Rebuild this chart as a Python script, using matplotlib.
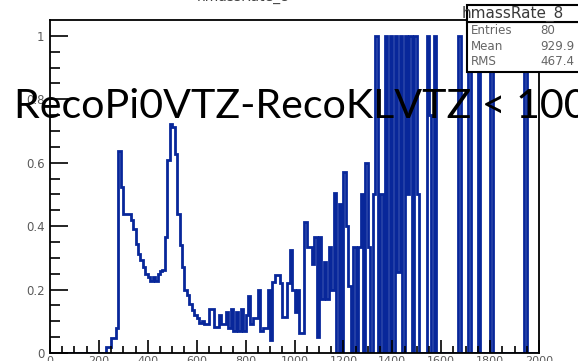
import numpy as np
import matplotlib
matplotlib.use("Agg")
import matplotlib.pyplot as plt
from matplotlib.patches import Rectangle

# histogram contents (ratio per bin), 200 bins over 0..2000
x_min, x_max = 0, 2000
ratio = [
    0, 0, 0, 0, 0, 0, 0, 0, 0, 0,
    0, 0, 0, 0, 0, 0, 0, 0, 0, 0,
    0, 0, 0, 0.02, 0.02, 0.046, 0.046, 0.078, 0.638, 0.523,
    0.437, 0.437, 0.437, 0.42, 0.392, 0.345, 0.313, 0.292, 0.271, 0.25,
    0.24, 0.228, 0.24, 0.228, 0.25, 0.26, 0.262, 0.366, 0.607, 0.722,
    0.712, 0.628, 0.439, 0.34, 0.271, 0.198, 0.182, 0.156, 0.135, 0.12,
    0.11, 0.094, 0.1, 0.093, 0.093, 0.14, 0.14, 0.083, 0.083, 0.12,
    0.09, 0.09, 0.13, 0.08, 0.14, 0.07, 0.13, 0.07, 0.14, 0.07,
    0.12, 0.18, 0.09, 0.11, 0.11, 0.2, 0.07, 0.08, 0.08, 0.2,
    0.04, 0.224, 0.245, 0.245, 0.22, 0.114, 0.114, 0.22, 0.324, 0.2,
    0.13, 0.2, 0.063, 0.063, 0.413, 0.334, 0.334, 0.28, 0.366, 0.05,
    0.366, 0.17, 0.287, 0.17, 0.334, 0.2, 0.503, 0, 0.47, 0,
    0.57, 0.40, 0.21, 0, 0.334, 0, 0.334, 0.5, 0, 0.6,
    0.334, 0, 0.5, 1.0, 0, 0.5, 0, 1.0, 0, 1.0,
    0, 1.0, 0.256, 1.0, 0, 1.0, 0.5, 1.0, 0, 1.0,
    0.5, 0, 0, 0, 1.0, 0.75, 0, 1.0, 0, 0,
    0, 0, 0, 0, 0, 0, 0, 1.0, 0, 0,
    0, 1.0, 0, 0, 0, 1.0, 0, 0, 0, 0,
    1.0, 0, 0, 0, 0, 0, 0, 0, 0, 0,
    0, 0, 0, 0, 1.0, 0, 0, 0, 0, 0,
]
edges = np.linspace(x_min, x_max, len(ratio) + 1)

hist_title = "hmassRate_8"
stat_names = ["Entries", "Mean", "RMS"]
stat_values = ["80", "929.9", "467.4"]
x_ticks = [0, 200, 400, 600, 800, 1000, 1200, 1400, 1600, 1800, 2000]
y_ticks = [0, 0.2, 0.4, 0.6, 0.8, 1]
y_labels = ["0", "0.2", "0.4", "0.6", "0.8", "1"]
overlay = "RecoPi0VTZ-RecoKLVTZ < 100"

W, H = 578, 361
fig = plt.figure(figsize=(W / 100, H / 100), dpi=100)


def fx(px):
    return px / W


def fy(py):
    return 1 - py / H


ax = fig.add_axes([fx(50), fy(353), fx(539) - fx(50), fy(20) - fy(353)])
ax.stairs(ratio, edges, color="#08279a", lw=2.0)
ax.set_xlim(x_min, x_max)
ax.set_ylim(0, 1.05)

ax.set_xticks(x_ticks)
ax.set_xticks(np.arange(x_min, x_max + 1, 50), minor=True)
ax.set_yticks(y_ticks)
ax.set_yticks(np.arange(0, 1.01, 0.05), minor=True)
ax.set_xticklabels([str(t) for t in x_ticks])
ax.set_yticklabels(y_labels)
for lab in ax.get_xticklabels() + ax.get_yticklabels():
    lab.set_family("DejaVu Sans")
ax.tick_params(axis="x", which="major", direction="in", length=9.5, width=1.2,
               labelsize=8, labelcolor="#5a5a5a", pad=2, top=False)
ax.tick_params(axis="x", which="minor", direction="in", length=5, width=1.2, top=False)
ax.tick_params(axis="y", which="major", direction="in", length=13, width=1.2,
               labelsize=8.5, labelcolor="#5a5a5a", pad=4, right=False)
ax.tick_params(axis="y", which="minor", direction="in", length=7, width=1.2, right=False)
for s in ax.spines.values():
    s.set_linewidth(1.3)

# title, mostly above the picture
fig.text(fx(243), fy(0.8), hist_title, ha="center", va="baseline",
         fontsize=10, color="#444444", family="DejaVu Sans")

# stats box
fig.patches.append(Rectangle((fx(467), fy(72)), fx(120), fy(22) - fy(72),
                             transform=fig.transFigure, facecolor="white",
                             edgecolor="black", lw=1.5, zorder=5))
fig.patches.append(Rectangle((fx(467), fy(22)), fx(120), fy(5) - fy(22),
                             transform=fig.transFigure, facecolor="white",
                             edgecolor="black", lw=1.5, zorder=5))
fig.text(fx(462), fy(18), hist_title, fontsize=11, color="#3a3a3a",
         family="DejaVu Sans", zorder=6)
for i, (name, val) in enumerate(zip(stat_names, stat_values)):
    y = 34 + i * 15.5
    fig.text(fx(471), fy(y), name, fontsize=8.6, color="#666666",
             family="DejaVu Sans", zorder=6)
    fig.text(fx(540), fy(y), val, fontsize=8.6, color="#666666",
             family="DejaVu Sans", zorder=6)

# big overlay label
fig.text(fx(14), fy(118), overlay, fontsize=29.6, color="black",
         family="Lato", va="baseline", zorder=10)

fig.savefig("out.png", dpi=100)
